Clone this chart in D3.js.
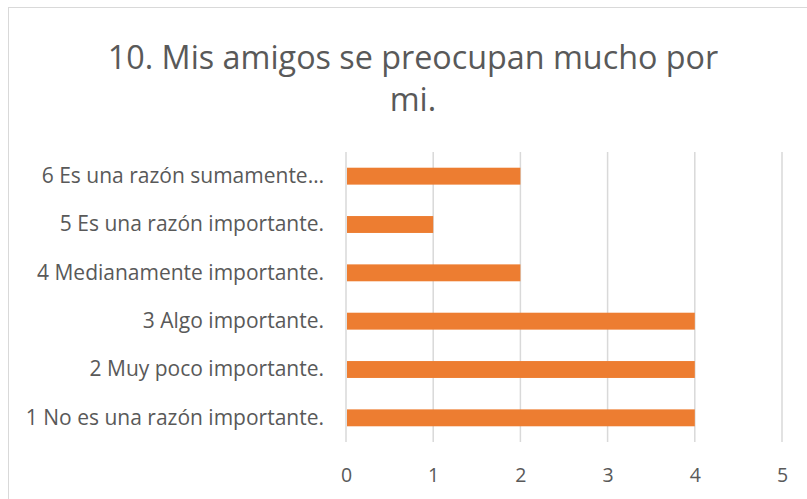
<!DOCTYPE html>
<html>
<head>
<meta charset="utf-8">
<script src="https://cdn.jsdelivr.net/npm/d3@7"></script>
<style>
  body { margin: 0; background: #fff; }
  text { font-family: "Open Sans", "Noto Sans", sans-serif; fill: #595959; }
</style>
</head>
<body>
<div id="chart"></div>
<script>
const categories = [
  "6 Es una razón sumamente…",
  "5 Es una razón importante.",
  "4 Medianamente importante.",
  "3 Algo importante.",
  "2 Muy poco importante.",
  "1 No es una razón importante."
];
const values = [2, 1, 2, 4, 4, 4];
const xTicks = [0, 1, 2, 3, 4, 5];
const titleLines = ["10. Mis amigos se preocupan mucho por", "mi."];

const width = 807;
const height = 499;
const margin = { top: 152, right: 25, bottom: 57, left: 346 };

const svg = d3.select("#chart")
  .append("svg")
  .attr("width", width)
  .attr("height", height)
  .style("background", "#ffffff");

// chart area border
svg.append("rect")
  .attr("x", 8.5)
  .attr("y", 7.5)
  .attr("width", width + 10)
  .attr("height", height + 10)
  .attr("fill", "none")
  .attr("stroke", "#d9d9d9");

const xScale = d3.scaleLinear().domain([0, 5]).range([margin.left, width - margin.right]);
const yScale = d3.scaleBand().domain(categories).range([margin.top, height - margin.bottom]).paddingInner(0.65).paddingOuter(0.325);

// gridlines
svg.append("g")
  .selectAll("line")
  .data(xTicks)
  .enter()
  .append("line")
  .attr("x1", d => xScale(d))
  .attr("x2", d => xScale(d))
  .attr("y1", margin.top)
  .attr("y2", height - margin.bottom)
  .attr("stroke", "#d9d9d9")
  .attr("stroke-width", 1.5);

svg.append("g")
  .selectAll("rect")
  .data(values)
  .enter()
  .append("rect")
  .attr("x", xScale(0) + 1)
  .attr("y", (d, i) => yScale(categories[i]))
  .attr("width", d => xScale(d) - xScale(0) - 1)
  .attr("height", yScale.bandwidth())
  .attr("fill", "#ed7d31");

const xAxis = d3.axisBottom(xScale).tickValues(xTicks).tickFormat(d3.format("d")).tickSize(0).tickPadding(26);
const gx = svg.append("g")
  .attr("transform", `translate(0, ${height - margin.bottom})`)
  .call(xAxis);
gx.select(".domain").remove();
gx.selectAll("text").style("font-size", "19.5px").attr("fill", "#595959");

const yAxis = d3.axisLeft(yScale).tickSize(0).tickPadding(22);
const gy = svg.append("g")
  .attr("transform", `translate(${margin.left}, 0)`)
  .call(yAxis);
gy.select(".domain").remove();
gy.selectAll("text").style("font-size", "21px").attr("fill", "#595959");

svg.append("g")
  .selectAll("text")
  .data(titleLines)
  .enter()
  .append("text")
  .attr("x", 413)
  .attr("y", (d, i) => 69 + i * 42)
  .attr("text-anchor", "middle")
  .style("font-size", "32.3px")
  .text(d => d);
</script>
</body>
</html>
